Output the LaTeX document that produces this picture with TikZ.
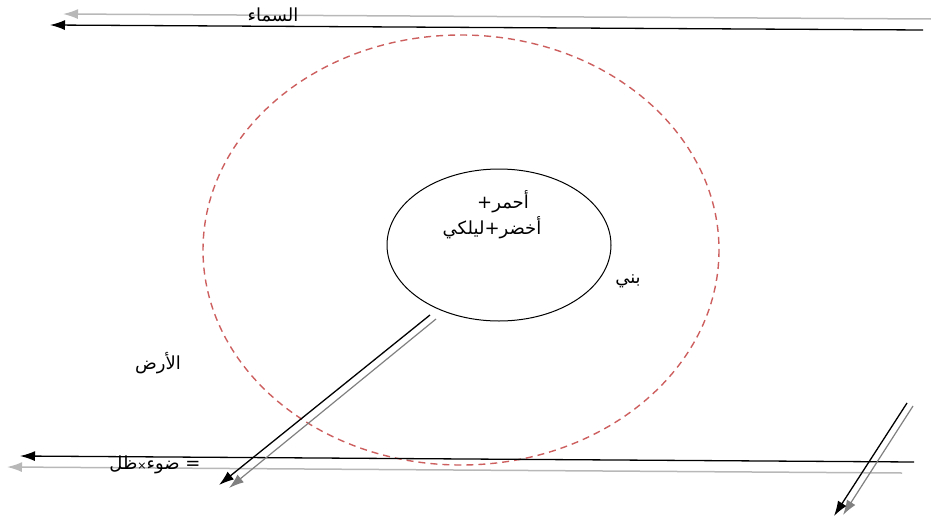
\documentclass[tikz,border=0pt]{standalone}
\usepackage{fontspec}
\usetikzlibrary{arrows.meta,shapes.geometric}
\newfontfamily\arabicfont[Script=Arabic]{DejaVu Sans}
\TeXXeTstate=1
\begin{document}
\begin{tikzpicture}[x=1pt,y=-1pt,
  blk/.style={draw=black,line width=1.3pt,-{Latex[length=15pt,width=10pt]}},
  gry/.style={draw=black!28,line width=1.5pt,-{Latex[length=15pt,width=10pt]}},
  gryd/.style={draw=black!50,line width=1.2pt,-{Latex[length=15pt,width=10pt]}},
  lbl/.style={font=\arabicfont\fontsize{18}{22}\selectfont,inner sep=0pt,align=center}]
\useasboundingbox (0,0) rectangle (931,522);
% dashed outer ellipse
\draw[draw={rgb,255:red,205;green,95;blue,95},line width=1.4pt,dash pattern=on 7pt off 5pt]
  (461,250) ellipse [x radius=258,y radius=215];
% inner ellipse
\node[draw,ellipse,minimum width=224pt,minimum height=152pt,inner sep=0pt,line width=1pt] (inner) at (499,245) {};
% coordinates
\coordinate (tgA) at (931,19); \coordinate (tgB) at (63,14);
\coordinate (tbA) at (923,30); \coordinate (tbB) at (50,25);
\coordinate (bbA) at (914,462); \coordinate (bbB) at (20,456);
\coordinate (bgA) at (902,473); \coordinate (bgB) at (7,467);
\coordinate (dbA) at (430,315); \coordinate (dbB) at (219,485);
\coordinate (dgA) at (436,319); \coordinate (dgB) at (229,488);
\coordinate (rbA) at (907,403); \coordinate (rbB) at (834,516);
\coordinate (rgA) at (913,406); \coordinate (rgB) at (843,515);
% lines
\draw[gry] (tgA) -- (tgB);
\draw[blk] (tbA) -- (tbB);
\draw[blk] (bbA) -- (bbB);
\draw[gry] (bgA) -- (bgB);
\draw[gryd] (dgA) -- (dgB);
\draw[blk] (dbA) -- (dbB);
\draw[gryd] (rgA) -- (rgB);
\draw[blk] (rbA) -- (rbB);
% labels
\node[lbl] (sky) at (273,15) {\beginR السماء\endR};
\node[lbl] (earth) at (158,363) {\beginR الأرض\endR};
\node[lbl] (brown) at (628,281) {\beginR بني\endR};
\node[lbl] (l1) at (503,202) {\beginR أحمر+\endR};
\node[lbl] (l2) at (492,228) {\beginR أخضر+ليلكي\endR};
\node[lbl] (eq) at (155,465) {\beginR = ضوء{\fontsize{11}{11}\selectfont ×}ظل\endR};
\end{tikzpicture}
\end{document}
